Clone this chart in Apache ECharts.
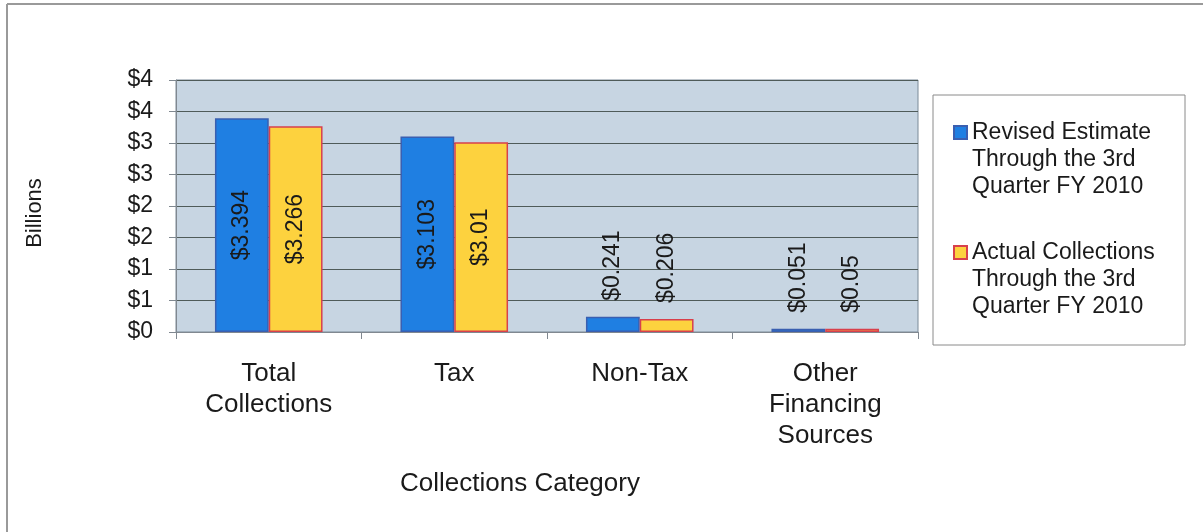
<!DOCTYPE html>
<html>
<head>
<meta charset="utf-8">
<script src="https://cdn.jsdelivr.net/npm/echarts@6/dist/echarts.min.js"></script>
<style>
html,body{margin:0;padding:0;background:#fff;}
#c{width:1203px;height:532px;}
</style>
</head>
<body>
<div id="c"></div>
<script>
var categories = ['Total\nCollections', 'Tax', 'Non-Tax', 'Other\nFinancing\nSources'];
var seriesNames = ['Revised Estimate Through the 3rd Quarter FY 2010', 'Actual Collections Through the 3rd Quarter FY 2010'];
var legendLabels = ['Revised Estimate\nThrough the 3rd\nQuarter FY 2010', 'Actual Collections\nThrough the 3rd\nQuarter FY 2010'];
var revisedEstimate = [3.394, 3.103, 0.241, 0.051];
var actualCollections = [3.266, 3.01, 0.206, 0.05];
var yMin = 0, yMax = 4, yInterval = 0.5;

var FONT = '"Liberation Sans", Arial, sans-serif';
var TXT = '#1a1a1a';

function makeData(values) {
  return values.map(function (v) {
    var big = v >= 1;
    return {
      value: v,
      label: big ? {
        position: 'inside', rotate: 90, align: 'center', verticalAlign: 'middle'
      } : {
        position: 'top', rotate: 90, align: 'left', verticalAlign: 'middle', distance: 16
      }
    };
  });
}

var labelBase = {
  show: true,
  fontFamily: FONT,
  fontSize: 23,
  color: TXT,
  formatter: function (p) { return '$' + p.value; }
};

function legendDef(i, top) {
  return {
    data: [seriesNames[i]], orient: 'vertical', left: 953, top: top, padding: 0,
    itemWidth: 13, itemHeight: 13, icon: 'rect',
    formatter: function () { return '\n\n' + legendLabels[i]; },
    textStyle: { fontFamily: FONT, fontSize: 23, lineHeight: 27, color: TXT }
  };
}

var chart = echarts.init(document.getElementById('c'));
chart.setOption({
  backgroundColor: '#ffffff',
  animation: false,
  grid: {
    left: 176, right: 285, top: 80, bottom: 200,
    show: true, backgroundColor: '#c7d5e2', borderColor: '#7a8a98', borderWidth: 1
  },
  graphic: [
    { type: 'line', shape: { x1: 7, y1: 4, x2: 7, y2: 532 }, style: { stroke: '#9a9a9a', lineWidth: 2 } },
    { type: 'line', shape: { x1: 7, y1: 4, x2: 1203, y2: 4 }, style: { stroke: '#9a9a9a', lineWidth: 2 } },
    { type: 'rect', shape: { x: 933, y: 95, width: 252, height: 250 }, style: { fill: 'none', stroke: '#8a8a8a', lineWidth: 1 } }
  ],
  legend: [legendDef(0, 65), legendDef(1, 185)],
  xAxis: {
    type: 'category',
    data: categories,
    boundaryGap: true,
    name: 'Collections Category',
    nameLocation: 'middle',
    nameGap: 139,
    nameTextStyle: { fontFamily: FONT, fontSize: 26, color: TXT, padding: [0, 54, 0, 0] },
    axisLine: { lineStyle: { color: '#808890', width: 1 } },
    axisTick: { show: true, length: 7, lineStyle: { color: '#808890' } },
    axisLabel: { fontFamily: FONT, fontSize: 26, lineHeight: 31, color: TXT, margin: 26, interval: 0 }
  },
  yAxis: {
    type: 'value',
    min: yMin, max: yMax, interval: yInterval,
    name: 'Billions',
    nameLocation: 'middle',
    nameGap: 130,
    nameTextStyle: { fontFamily: FONT, fontSize: 22, color: TXT, padding: [0, 14, 0, 0] },
    axisLine: { show: true, lineStyle: { color: '#808890', width: 1 } },
    axisTick: { show: true, inside: false, length: 7, lineStyle: { color: '#808890' } },
    axisLabel: {
      fontFamily: FONT, fontSize: 23, color: TXT, margin: 23,
      formatter: function (v) { return '$' + Math.round(v); }
    },
    splitLine: { show: true, lineStyle: { color: '#4f5b59', width: 1 } }
  },
  series: [
    {
      name: seriesNames[0], type: 'bar', barWidth: '29%', barGap: '0%',
      itemStyle: { color: '#1f7fe2', borderColor: '#3a5fb0', borderWidth: 1.5 },
      label: labelBase,
      data: makeData(revisedEstimate)
    },
    {
      name: seriesNames[1], type: 'bar', barWidth: '29%', barGap: '0%',
      itemStyle: { color: '#fdd23e', borderColor: '#d8404c', borderWidth: 1.5 },
      label: labelBase,
      data: makeData(actualCollections)
    }
  ]
});
</script>
</body>
</html>
